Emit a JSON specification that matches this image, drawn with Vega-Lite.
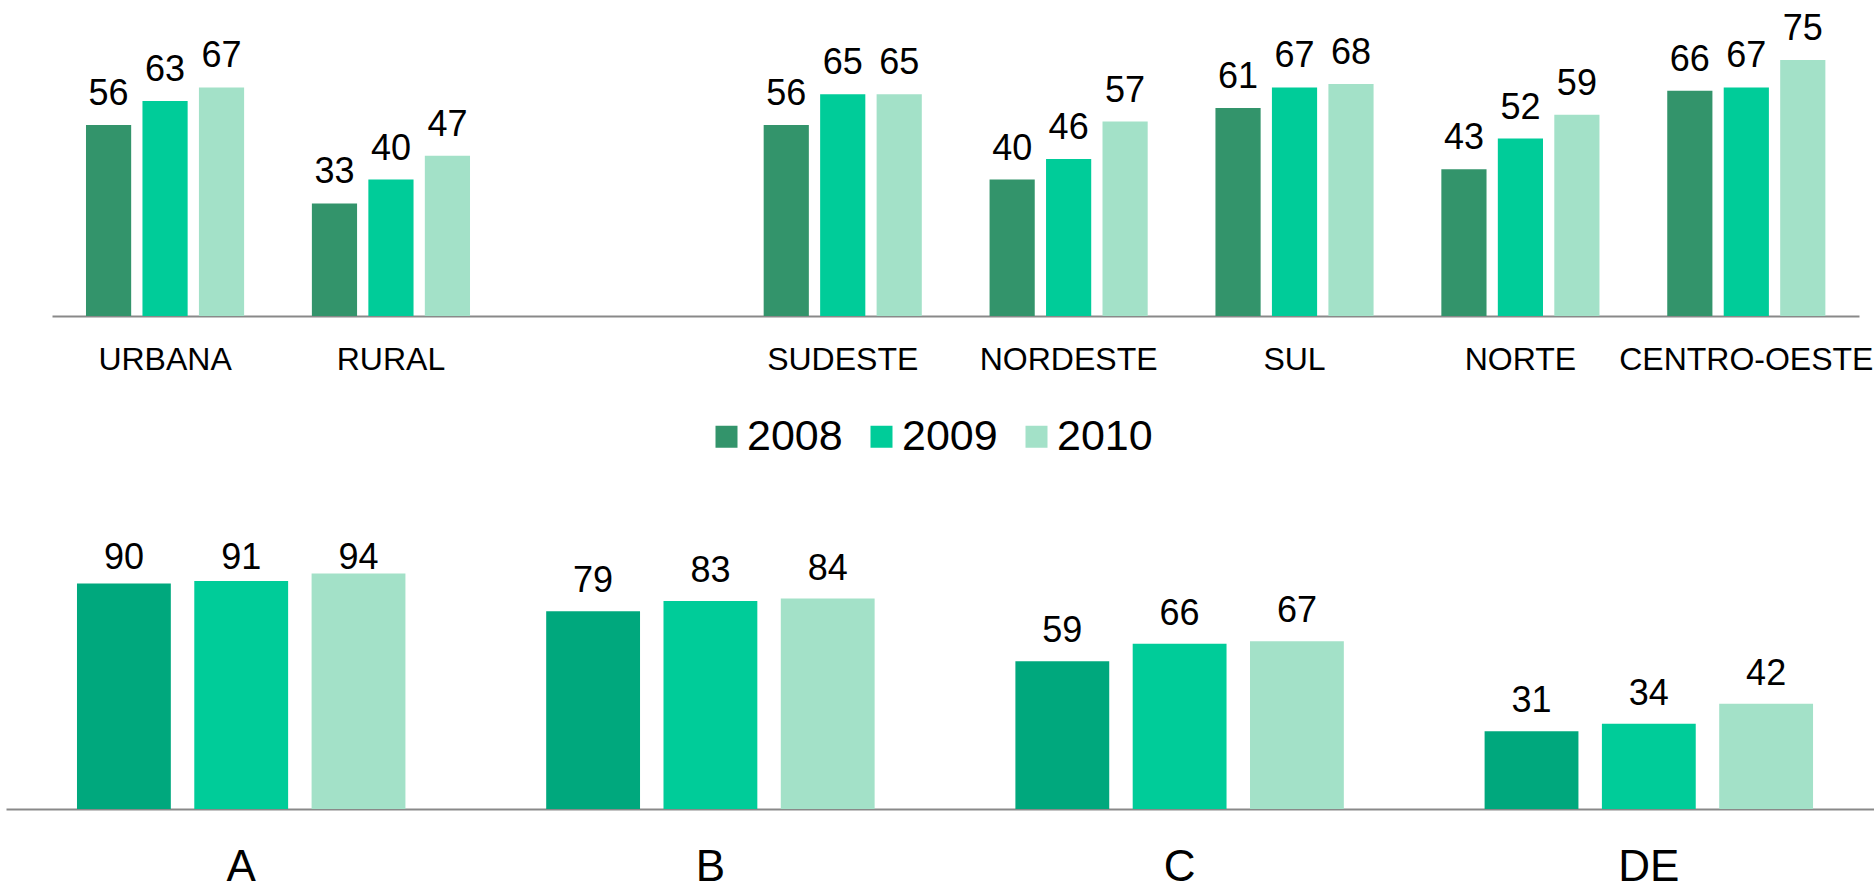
{
  "$schema": "https://vega.github.io/schema/vega-lite/v6.json",
  "padding": {"left": 6, "top": 11, "right": 0, "bottom": 0},
  "background": "white",
  "spacing": 81,
  "config": {
    "view": {"stroke": null},
    "font": "Liberation Sans",
    "axis": {"labelFont": "Liberation Sans", "labelColor": "#000000", "labelLimit": 0},
    "legend": {"labelFont": "Liberation Sans", "labelColor": "#000000"},
    "text": {"font": "Liberation Sans", "color": "#000000"}
  },
  "resolve": {"scale": {"color": "independent", "x": "independent", "y": "independent", "xOffset": "independent"}},
  "vconcat": [
    {
      "width": 1853,
      "height": 290,
      "data": {"values": [
        {"regiao": "URBANA", "ano": "2008", "valor": 56},
        {"regiao": "URBANA", "ano": "2009", "valor": 63},
        {"regiao": "URBANA", "ano": "2010", "valor": 67},
        {"regiao": "RURAL", "ano": "2008", "valor": 33},
        {"regiao": "RURAL", "ano": "2009", "valor": 40},
        {"regiao": "RURAL", "ano": "2010", "valor": 47},
        {"regiao": "SUDESTE", "ano": "2008", "valor": 56},
        {"regiao": "SUDESTE", "ano": "2009", "valor": 65},
        {"regiao": "SUDESTE", "ano": "2010", "valor": 65},
        {"regiao": "NORDESTE", "ano": "2008", "valor": 40},
        {"regiao": "NORDESTE", "ano": "2009", "valor": 46},
        {"regiao": "NORDESTE", "ano": "2010", "valor": 57},
        {"regiao": "SUL", "ano": "2008", "valor": 61},
        {"regiao": "SUL", "ano": "2009", "valor": 67},
        {"regiao": "SUL", "ano": "2010", "valor": 68},
        {"regiao": "NORTE", "ano": "2008", "valor": 43},
        {"regiao": "NORTE", "ano": "2009", "valor": 52},
        {"regiao": "NORTE", "ano": "2010", "valor": 59},
        {"regiao": "CENTRO-OESTE", "ano": "2008", "valor": 66},
        {"regiao": "CENTRO-OESTE", "ano": "2009", "valor": 67},
        {"regiao": "CENTRO-OESTE", "ano": "2010", "valor": 75}
      ]},
      "encoding": {
        "x": {
          "field": "regiao", "type": "nominal",
          "scale": {"domain": ["URBANA", "RURAL", " ", "SUDESTE", "NORDESTE", "SUL", "NORTE", "CENTRO-OESTE"], "paddingInner": 0.3, "paddingOuter": 0.2515, "align": 0.704},
          "axis": {"title": null, "labelAngle": 0, "ticks": false, "tickSize": 0, "labelFontSize": 32, "labelPadding": 28, "labelLimit": 0, "domainColor": "#898989", "domainWidth": 2, "domainDash": [0, 46, 1807]}
        },
        "xOffset": {"field": "ano", "type": "nominal", "scale": {"paddingInner": 0.2, "paddingOuter": 0}},
        "y": {
          "field": "valor", "type": "quantitative",
          "scale": {"domain": [0, 85]},
          "axis": null
        }
      },
      "layer": [
        {
          "mark": {"type": "bar"},
          "encoding": {
            "color": {
              "field": "ano", "type": "nominal",
              "scale": {"domain": ["2008", "2009", "2010"], "range": ["#33946B", "#00CC99", "#A3E1C8"]},
              "legend": {"orient": "none", "legendX": 699, "legendY": 389, "direction": "horizontal", "title": null, "symbolType": "square", "symbolSize": 484, "symbolStrokeWidth": 0, "symbolOpacity": 1, "labelFontSize": 43, "labelOffset": -1, "columnPadding": 17}
            }
          }
        },
        {
          "mark": {"type": "text", "baseline": "alphabetic", "dy": -20, "fontSize": 36},
          "encoding": {"text": {"field": "valor", "type": "quantitative"}}
        }
      ]
    },
    {
      "width": 1868,
      "height": 268,
      "data": {"values": [
        {"classe": "A", "ano": "2008", "valor": 90},
        {"classe": "A", "ano": "2009", "valor": 91},
        {"classe": "A", "ano": "2010", "valor": 94},
        {"classe": "B", "ano": "2008", "valor": 79},
        {"classe": "B", "ano": "2009", "valor": 83},
        {"classe": "B", "ano": "2010", "valor": 84},
        {"classe": "C", "ano": "2008", "valor": 59},
        {"classe": "C", "ano": "2009", "valor": 66},
        {"classe": "C", "ano": "2010", "valor": 67},
        {"classe": "DE", "ano": "2008", "valor": 31},
        {"classe": "DE", "ano": "2009", "valor": 34},
        {"classe": "DE", "ano": "2010", "valor": 42}
      ]},
      "encoding": {
        "x": {
          "field": "classe", "type": "nominal",
          "scale": {"domain": ["A", "B", "C", "DE"], "paddingInner": 0.3, "paddingOuter": 0.1406, "align": 0.538},
          "axis": {"title": null, "labelAngle": 0, "ticks": false, "tickSize": 0, "labelFontSize": 44, "labelBaseline": "line-top", "labelLineHeight": 30, "labelPadding": 43, "domainColor": "#898989", "domainWidth": 2}
        },
        "xOffset": {"field": "ano", "type": "nominal", "scale": {"paddingInner": 0.2, "paddingOuter": 0}}
      },
      "layer": [
        {
          "mark": {"type": "bar"},
          "encoding": {
            "y": {"field": "valor", "type": "quantitative", "scale": {"domain": [0, 107]}, "axis": null},
            "color": {
              "field": "ano", "type": "nominal",
              "scale": {"domain": ["2008", "2009", "2010"], "range": ["#00A87D", "#00CC99", "#A3E1C8"]},
              "legend": null
            }
          }
        },
        {
          "mark": {"type": "text", "baseline": "alphabetic", "dy": -19, "fontSize": 36},
          "encoding": {
            "y": {"field": "valor", "type": "quantitative", "scale": {"domain": [0, 88.2], "range": [268, 47.1], "clamp": true}, "axis": null},
            "text": {"field": "valor", "type": "quantitative"}
          }
        }
      ],
      "resolve": {"scale": {"y": "independent"}}
    }
  ]
}
